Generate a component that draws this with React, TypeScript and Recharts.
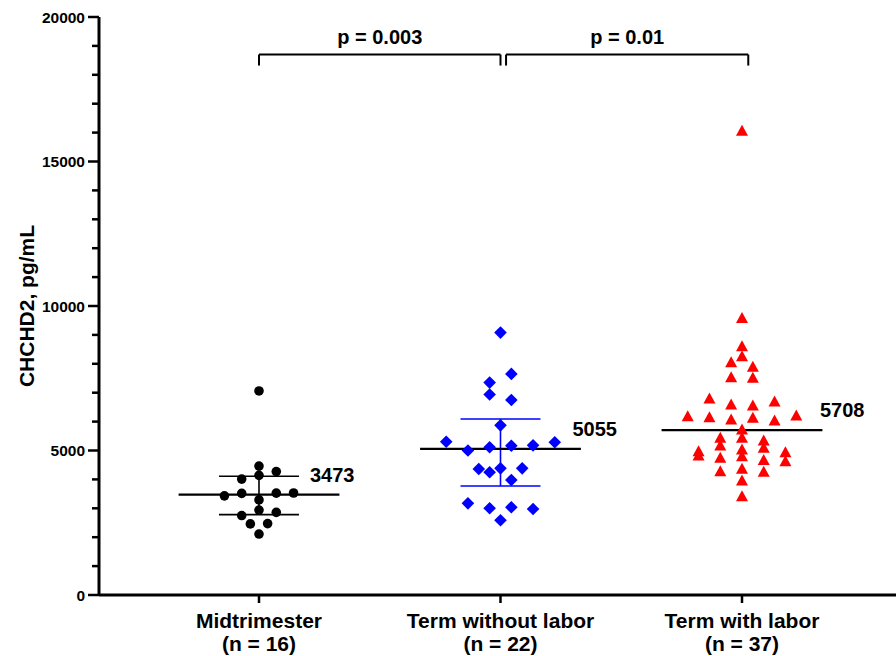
import React from 'react';
import { ScatterChart, Scatter, XAxis, YAxis, ReferenceLine } from 'recharts';

// ---------- data ----------
const categories = ['Midtrimester', 'Term without labor', 'Term with labor'];

const midtrimester = [7060, 4460, 4010, 4140, 4270, 3430, 3516, 3290, 3525, 3530, 2750, 2940, 2860, 2460, 2470, 2110];

const termWithoutLabor = [9080, 7350, 7650, 6940, 6750, 5870, 5305, 5000, 5110, 5166, 5179, 5283, 4360, 4245, 4383, 4383, 3980, 3172, 3000, 3034, 2976, 2584];

const termWithLabor = [16050, 9570, 8590, 8245, 8040, 7880, 7520, 7500, 6780, 6575, 6540, 6680, 6170, 6135, 6055, 6113, 6020, 6193, 5708, 5420, 5420, 5330, 4960, 5155, 5017, 5075, 4925, 4810, 4730, 4786, 4650, 4613, 4267, 4348, 4245, 3944, 3402];

const medians = [3473, 5055, 5708];
const spreadLow = [2780, 3770, null];
const spreadHigh = [4110, 6090, null];

const pLabels = ['p = 0.003', 'p = 0.01'];
const bracketTop = 18700;
const bracketBottom = 18320;

const yTickValues = [0, 1000, 2000, 3000, 4000, 5000, 6000, 7000, 8000, 9000, 10000, 11000, 12000, 13000, 14000, 15000, 16000, 17000, 18000, 19000, 20000];
const yAxisTitle = 'CHCHD2, pg/mL';

// ---------- styling ----------
const FONT = '"Liberation Sans", Arial, sans-serif';
const groups = [midtrimester, termWithoutLabor, termWithLabor];
const colors = ['#000000', '#0000ff', '#ff0000'];
const swarmStep = [0.0716, 0.0899, 0.0899];
const swarmTol = [280, 330, 300];
const medianHalf = 0.333;
const capHalf = 0.1656;
const medianLabelDx = [51, 72, 78];

// Prism-like beeswarm: group values into rows, spread each row symmetrically
function swarm(values: number[], center: number, step: number, tol: number) {
  const order = values.map((_, i) => i).sort((a, b) => values[a] - values[b]);
  const rows: number[][] = [];
  let cur: number[] = [];
  for (const i of order) {
    if (cur.length && values[i] - values[cur[0]] >= tol) {
      rows.push(cur);
      cur = [];
    }
    cur.push(i);
  }
  if (cur.length) rows.push(cur);
  const pts: { x: number; y: number }[] = [];
  rows.forEach((row) => {
    const r = [...row].sort((a, b) => a - b);
    r.forEach((i, k) => pts.push({ x: center + (k - (r.length - 1) / 2) * step, y: values[i] }));
  });
  return pts;
}

const seriesData = groups.map((g, gi) => swarm(g, gi + 1, swarmStep[gi], swarmTol[gi]));

const CircleShape = (p: any) => <circle cx={p.cx} cy={p.cy} r={4.8} fill="#000000" />;
const DiamondShape = (p: any) => (
  <polygon points={`${p.cx},${p.cy - 6.3} ${p.cx + 6.3},${p.cy} ${p.cx},${p.cy + 6.3} ${p.cx - 6.3},${p.cy}`} fill="#0000ff" />
);
const TriangleShape = (p: any) => (
  <polygon points={`${p.cx},${p.cy - 6.5} ${p.cx + 6},${p.cy + 4.5} ${p.cx - 6},${p.cy + 4.5}`} fill="#ff0000" />
);
const shapes = [CircleShape, DiamondShape, TriangleShape];

const XTick = (props: any) => {
  const { x, y, payload } = props;
  const i = Math.round(payload.value) - 1;
  if (i < 0 || i > 2) return null;
  return (
    <g>
      <line x1={x} x2={x} y1={y} y2={y + 8} stroke="#000" strokeWidth={2.5} />
      <text x={x} y={y + 33} textAnchor="middle" fontFamily={FONT} fontWeight="bold" fontSize={21} fill="#000">
        {categories[i]}
      </text>
      <text x={x} y={y + 56} textAnchor="middle" fontFamily={FONT} fontWeight="bold" fontSize={21} fill="#000">
        {`(n = ${groups[i].length})`}
      </text>
    </g>
  );
};

const YTick = (props: any) => {
  const { x, y, payload } = props;
  const major = payload.value % 5000 === 0;
  return (
    <g>
      <line x1={x - (major ? 11 : 7)} x2={x} y1={y} y2={y} stroke="#000" strokeWidth={2.5} />
      {major && (
        <text x={x - 14} y={y} dy="0.36em" textAnchor="end" fontFamily={FONT} fontWeight="bold" fontSize={15.5} fill="#000">
          {payload.value}
        </text>
      )}
    </g>
  );
};

export default function App() {
  return (
    <div style={{ position: 'absolute', left: 0, top: 0, width: 896, height: 656, background: '#fff' }}>
      <ScatterChart width={896} height={656} margin={{ top: 17, right: 0, bottom: 0, left: 0 }}>
        <XAxis
          type="number"
          dataKey="x"
          domain={[0.3375, 3.6377]}
          ticks={[1, 2, 3]}
          interval={0}
          allowDataOverflow
          height={61}
          axisLine={{ stroke: '#000', strokeWidth: 3 }}
          tickLine={false}
          tickSize={0}
          tickMargin={0}
          tick={(p: any) => <XTick {...p} />}
        />
        <YAxis
          type="number"
          dataKey="y"
          domain={[0, 20000]}
          ticks={yTickValues}
          interval={0}
          allowDataOverflow
          width={99}
          axisLine={{ stroke: '#000', strokeWidth: 3 }}
          tickLine={false}
          tickSize={0}
          tickMargin={0}
          tick={(p: any) => <YTick {...p} />}
          label={{
            content: () => (
              <text
                x={26}
                y={306}
                transform="rotate(-90, 26, 306)"
                dy="0.36em"
                textAnchor="middle"
                fontFamily={FONT}
                fontWeight="bold"
                fontSize={21}
                fill="#000"
              >
                {yAxisTitle}
              </text>
            ),
          }}
        />

        {/* spread bars */}
        {spreadLow.map((lo, gi) => {
          const hi = spreadHigh[gi];
          if (lo == null || hi == null) return null;
          const c = gi + 1;
          return (
            <React.Fragment key={`err${gi}`}>
              <ReferenceLine segment={[{ x: c, y: lo }, { x: c, y: hi }]} stroke={colors[gi]} strokeWidth={1.6} />
              <ReferenceLine segment={[{ x: c - capHalf, y: lo }, { x: c + capHalf, y: lo }]} stroke={colors[gi]} strokeWidth={1.6} />
              <ReferenceLine segment={[{ x: c - capHalf, y: hi }, { x: c + capHalf, y: hi }]} stroke={colors[gi]} strokeWidth={1.6} />
            </React.Fragment>
          );
        })}

        {/* medians */}
        {medians.map((m, gi) => {
          const c = gi + 1;
          return (
            <ReferenceLine
              key={`med${gi}`}
              segment={[{ x: c - medianHalf, y: m }, { x: c + medianHalf, y: m }]}
              stroke="#000"
              strokeWidth={2.2}
              label={(lp: any) => {
                const vb = lp.viewBox || {};
                const cx = vb.x + vb.width / 2;
                return (
                  <text
                    x={cx + medianLabelDx[gi]}
                    y={vb.y - 13}
                    textAnchor="start"
                    fontFamily={FONT}
                    fontWeight="bold"
                    fontSize={20}
                    fill="#000"
                  >
                    {String(m)}
                  </text>
                );
              }}
            />
          );
        })}

        {/* significance brackets */}
        {pLabels.map((lab, i) => {
          const a = i === 0 ? 1 : 2.023;
          const b = i === 0 ? 2.0 : 3.026;
          return (
            <React.Fragment key={`br${i}`}>
              <ReferenceLine segment={[{ x: a, y: bracketBottom }, { x: a, y: bracketTop }]} stroke="#000" strokeWidth={2} />
              <ReferenceLine segment={[{ x: b, y: bracketBottom }, { x: b, y: bracketTop }]} stroke="#000" strokeWidth={2} />
              <ReferenceLine
                segment={[{ x: a, y: bracketTop }, { x: b, y: bracketTop }]}
                stroke="#000"
                strokeWidth={2}
                label={(lp: any) => {
                  const vb = lp.viewBox || {};
                  return (
                    <text
                      x={vb.x + vb.width / 2}
                      y={vb.y - 10.5}
                      textAnchor="middle"
                      fontFamily={FONT}
                      fontWeight="bold"
                      fontSize={20}
                      fill="#000"
                    >
                      {lab}
                    </text>
                  );
                }}
              />
            </React.Fragment>
          );
        })}

        {seriesData.map((d, gi) => (
          <Scatter key={`s${gi}`} data={d} dataKey="y" fill={colors[gi]} shape={shapes[gi]} isAnimationActive={false} />
        ))}
      </ScatterChart>
    </div>
  );
}
